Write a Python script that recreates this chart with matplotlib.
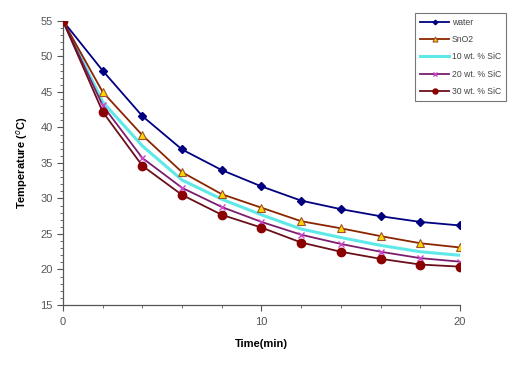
import matplotlib.pyplot as plt
from matplotlib.ticker import MultipleLocator

# --- Data ---
time_min = [0, 2, 4, 6, 8, 10, 12, 14, 16, 18, 20]
water = [55, 48.0, 41.6, 36.9, 34.0, 31.7, 29.7, 28.5, 27.5, 26.7, 26.2]
sno2 = [55, 45.0, 38.9, 33.7, 30.6, 28.7, 26.8, 25.8, 24.7, 23.7, 23.1]
sic10 = [55, 43.6, 37.4, 32.6, 29.9, 27.7, 25.7, 24.5, 23.4, 22.5, 22.0]
sic20 = [55, 43.1, 35.7, 31.5, 28.8, 26.7, 24.9, 23.6, 22.5, 21.6, 21.1]
sic30 = [55, 42.2, 34.6, 30.5, 27.7, 25.9, 23.8, 22.5, 21.5, 20.7, 20.4]

plt.rcParams['font.family'] = ['Liberation Sans', 'DejaVu Sans']

fig = plt.figure(figsize=(5.18, 3.74), dpi=100)
ax = fig.add_axes([0.1216, 0.1845, 0.7664, 0.7594])

ax.plot(time_min, water, color='#000080', lw=1.3, marker='D', ms=3.8,
        mfc='#000080', mec='#000080', label='water', zorder=3)
ax.plot(time_min, sno2, color='#8B2500', lw=1.3, marker='^', ms=6,
        mfc='#FFD700', mec='#A0522D', mew=0.8, label='SnO2', zorder=3)
ax.plot(time_min, sic10, color='#5FE8E8', lw=2.2, label='10 wt. % SiC', zorder=2)
ax.plot(time_min, sic20, color='#7B1E6E', lw=1.3, marker='x', ms=5,
        mec='#CC44CC', mew=1, label='20 wt. % SiC', zorder=3)
ax.plot(time_min, sic30, color='#6B0F1A', lw=1.3, marker='o', ms=6,
        mfc='#8B0000', mec='#8B0000', label='30 wt. % SiC', zorder=4)

ax.set_xlim(0, 20)
ax.set_ylim(15, 55)
ax.yaxis.set_major_locator(MultipleLocator(5))
ax.yaxis.set_minor_locator(MultipleLocator(1))
ax.set_xticks([0, 2, 4, 6, 8, 10, 12, 14, 16, 18, 20], minor=True)
ax.set_xticks([0, 10, 20])

ax.spines['top'].set_visible(False)
ax.spines['right'].set_visible(False)
for s in ['left', 'bottom']:
    ax.spines[s].set_color('#555555')
    ax.spines[s].set_linewidth(0.9)

ax.tick_params(axis='both', which='major', labelsize=8, colors='#555555',
               labelcolor='#555555', length=4, width=0.8)
ax.tick_params(axis='both', which='minor', colors='#555555', length=2.5, width=0.6)
ax.tick_params(axis='x', pad=5)

ax.set_xlabel('Time(min)', fontsize=8, fontweight='bold', labelpad=8)
ax.set_ylabel('Temperature ($^o$C)', fontsize=8, fontweight='bold', labelpad=7)

leg = fig.legend(loc='upper left', bbox_to_anchor=(0.792, 0.978), fontsize=6.2,
                 frameon=True, fancybox=False, edgecolor='#555555',
                 handlelength=3.4, labelspacing=0.95, borderpad=0.65,
                 handletextpad=0.25, markerscale=0.6)
leg.get_frame().set_linewidth(0.8)
for t in leg.get_texts():
    t.set_color('#444444')

fig.savefig('out.png', dpi=100)
